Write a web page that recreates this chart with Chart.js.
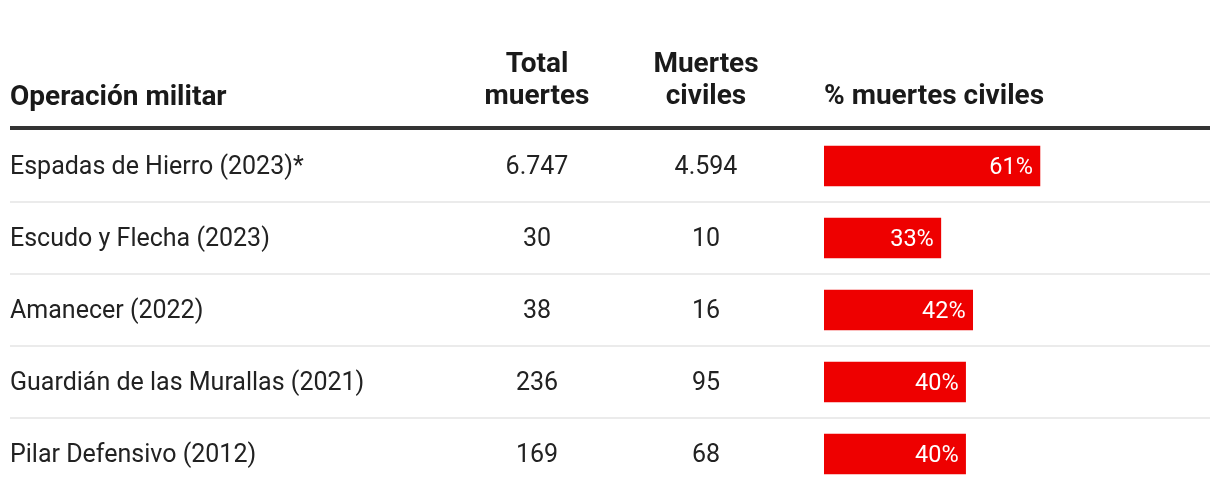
<!DOCTYPE html>
<html>
<head>
<meta charset="utf-8">
<script src="https://cdn.jsdelivr.net/npm/chart.js@4"></script>
<style>
html,body{margin:0;padding:0;background:#fff;}
#wrap{position:relative;width:1220px;height:498px;}
</style>
</head>
<body>
<div id="wrap"><canvas id="c"></canvas></div>
<script>
const operations = [
  "Espadas de Hierro (2023)*",
  "Escudo y Flecha (2023)",
  "Amanecer (2022)",
  "Guardián de las Murallas (2021)",
  "Pilar Defensivo (2012)"
];
const totalDeaths = ["6.747", "30", "38", "236", "169"];
const civilianDeaths = ["4.594", "10", "16", "95", "68"];
const civilianPct = [61, 33, 42, 40, 40];
const headers = {
  op: ["Operación militar"],
  total: ["Total", "muertes"],
  civ: ["Muertes", "civiles"],
  pct: ["% muertes civiles"]
};

const FONT = "Roboto, 'Noto Sans', sans-serif";

const tablePlugin = {
  id: 'tablePlugin',
  beforeDatasetsDraw(chart) {
    const ctx = chart.ctx;
    const y = chart.scales.y;
    const n = operations.length;
    ctx.save();
    ctx.fillStyle = '#333333';
    ctx.fillRect(10, 126, 1200, 4);
    ctx.fillStyle = '#ebebeb';
    for (let i = 0; i < n - 1; i++) {
      const yy = (y.getPixelForValue(i) + y.getPixelForValue(i + 1)) / 2;
      ctx.fillRect(10, Math.round(yy) - 1, 1200, 2);
    }
    ctx.restore();
  },
  afterDatasetsDraw(chart) {
    const ctx = chart.ctx;
    const y = chart.scales.y;
    const x = chart.scales.x;
    ctx.save();
    ctx.fillStyle = '#1a1a1a';
    ctx.font = "bold 28px " + FONT;
    ctx.textBaseline = 'alphabetic';
    ctx.textAlign = 'left';
    ctx.fillText(headers.op[0], 10, 105);
    ctx.fillText(headers.pct[0], 824, 104);
    ctx.textAlign = 'center';
    ctx.fillText(headers.total[0], 537, 72);
    ctx.fillText(headers.total[1], 537, 104);
    ctx.fillText(headers.civ[0], 706, 72);
    ctx.fillText(headers.civ[1], 706, 104);
    ctx.font = "25px " + FONT;
    ctx.fillStyle = '#222222';
    ctx.textBaseline = 'middle';
    for (let i = 0; i < operations.length; i++) {
      const cy = y.getPixelForValue(i) + 2;
      ctx.textAlign = 'left';
      ctx.fillText(operations[i], 10, cy);
      ctx.textAlign = 'center';
      ctx.fillText(totalDeaths[i], 537, cy);
      ctx.fillText(civilianDeaths[i], 706, cy);
    }
    ctx.font = "23.5px " + FONT;
    ctx.fillStyle = '#ffffff';
    ctx.textAlign = 'right';
    for (let i = 0; i < civilianPct.length; i++) {
      const cy = y.getPixelForValue(i) + 2;
      const xe = x.getPixelForValue(civilianPct[i]);
      ctx.fillText(civilianPct[i] + '%', xe - 7, cy);
    }
    ctx.restore();
  }
};

function build() {
  new Chart(document.getElementById('c'), {
    type: 'bar',
    data: {
      labels: operations,
      datasets: [{
        data: civilianPct,
        backgroundColor: '#ee0000',
        borderWidth: 0,
        barThickness: 40
      }]
    },
    options: {
      indexAxis: 'y',
      responsive: true,
      maintainAspectRatio: false,
      animation: false,
      layout: { padding: { left: 824, right: 42, top: 130, bottom: 8 } },
      scales: {
        x: { display: false, min: 0, max: 100 },
        y: { display: false, offset: true }
      },
      plugins: {
        legend: { display: false },
        tooltip: { enabled: false }
      }
    },
    plugins: [tablePlugin]
  });
}
if (document.fonts && document.fonts.load) {
  Promise.all([document.fonts.load("24px Roboto"), document.fonts.load("bold 24px Roboto")]).then(build, build);
} else { build(); }
</script>
</body>
</html>
